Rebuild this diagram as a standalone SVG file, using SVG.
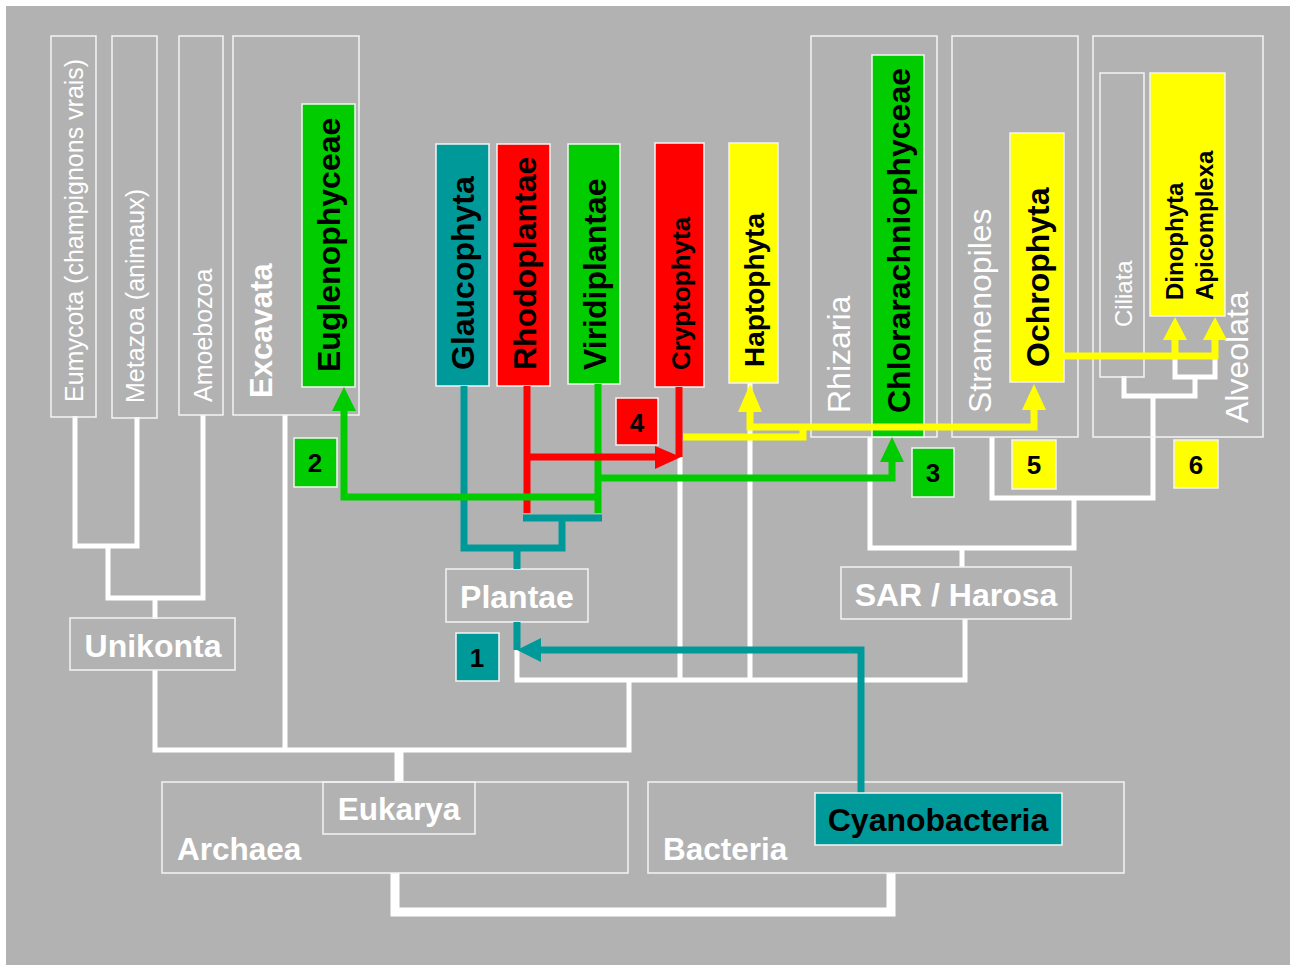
<svg xmlns="http://www.w3.org/2000/svg" width="1290" height="965" viewBox="0 0 1290 965">
<style>
.bx{fill:none;stroke:#f4f4f4;stroke-width:1.5}
.cb{stroke:#f4f4f4;stroke-width:1.5}
.teal{fill:#009999}.red{fill:#ff0000}.green{fill:#00cc00}.yellow{fill:#ffff00}
.wt{fill:#ffffff;font-family:"Liberation Sans",Arial,sans-serif}
.bt{fill:#000000;font-family:"Liberation Sans",Arial,sans-serif;font-weight:bold}
.b{font-weight:bold}
.num{fill:#000000;font-family:"Liberation Sans",Arial,sans-serif;font-weight:bold;font-size:26px;text-anchor:middle}
.tree{fill:none;stroke:#ffffff;stroke-width:5}
.thick{fill:none;stroke:#ffffff;stroke-width:9}
.ct{fill:none;stroke:#009999;stroke-width:7}
.cr{fill:none;stroke:#ff0000;stroke-width:7}
.cg{fill:none;stroke:#00cc00;stroke-width:7}
.cy{fill:none;stroke:#ffff00;stroke-width:7}
</style>
<rect x="0" y="0" width="1290" height="965" fill="#ffffff"/>
<rect x="6" y="6" width="1284" height="959" fill="#b2b2b2"/>

<!-- white tree lines (under) -->
<g id="tree">
<path class="tree" d="M75 416V546H137V417"/>
<path class="tree" d="M108 546V598H203V415"/>
<path class="tree" d="M155 598V619"/>
<path class="tree" d="M155 670V750H629V680"/>
<path class="tree" d="M285 415V750"/>
<path class="tree" d="M517 650V680H965V619"/>
<path class="tree" d="M680 457V680"/>
<path class="tree" d="M750 382V680"/>
<path class="thick" d="M399 750V782"/>
<path class="thick" d="M395 873V912H891V873"/>
<path class="tree" d="M870 437V548H1074V498"/>
<path class="tree" d="M962 548V567"/>
<path class="tree" d="M992 437V498H1153V396"/>
<path class="tree" d="M1124 376V396H1195V377"/>
<path class="tree" d="M1175 356V377H1215V356"/>
</g>

<g id="eumycota"><rect class="bx" x="51" y="36" width="45" height="381"/><text class="wt" font-size="25" transform="translate(83,402) rotate(-90)">Eumycota (champignons vrais)</text></g>
<g id="metazoa"><rect class="bx" x="112" y="36" width="45" height="382"/><text class="wt" font-size="25" transform="translate(144,403) rotate(-90)">Metazoa (animaux)</text></g>
<g id="amoebozoa"><rect class="bx" x="179" y="36" width="44" height="379"/><text class="wt" font-size="25" transform="translate(212,402) rotate(-90)">Amoebozoa</text></g>
<g id="excavata"><rect class="bx" x="233" y="36" width="126" height="379"/><text class="wt b" font-size="31" transform="translate(272,398) rotate(-90)">Excavata</text></g>
<g id="euglenophyceae"><rect class="green cb" x="302" y="104" width="53" height="283"/><text class="bt" font-size="32" transform="translate(340,372) rotate(-90)">Euglenophyceae</text></g>

<g id="glaucophyta"><rect class="teal cb" x="436" y="144" width="53" height="242"/><text class="bt" font-size="32" transform="translate(474,370) rotate(-90)">Glaucophyta</text></g>
<g id="rhodoplantae"><rect class="red cb" x="497" y="144" width="53" height="242"/><text class="bt" font-size="32" transform="translate(536,370) rotate(-90)">Rhodoplantae</text></g>
<g id="viridiplantae"><rect class="green cb" x="568" y="144" width="52" height="240"/><text class="bt" font-size="32" transform="translate(606,370) rotate(-90)">Viridiplantae</text></g>
<g id="cryptophyta"><rect class="red cb" x="655" y="143" width="49" height="244"/><text class="bt" font-size="26" transform="translate(690,370) rotate(-90)">Cryptophyta</text></g>
<g id="haptophyta"><rect class="yellow cb" x="729" y="143" width="49" height="240"/><text class="bt" font-size="28" transform="translate(764,367) rotate(-90)">Haptophyta</text></g>

<g id="rhizaria"><rect class="bx" x="811" y="36" width="126" height="401"/><text class="wt" font-size="32" transform="translate(850,413) rotate(-90)">Rhizaria</text></g>
<g id="chlorarachniophyceae"><rect class="green cb" x="872" y="55" width="52" height="382"/><text class="bt" font-size="32" transform="translate(910,413) rotate(-90)">Chlorarachniophyceae</text></g>
<g id="stramenopiles"><rect class="bx" x="952" y="36" width="126" height="401"/><text class="wt" font-size="32" transform="translate(991,413) rotate(-90)">Stramenopiles</text></g>
<g id="ochrophyta"><rect class="yellow cb" x="1010" y="133" width="54" height="249"/><text class="bt" font-size="32" transform="translate(1049,367) rotate(-90)">Ochrophyta</text></g>
<g id="alveolata"><rect class="bx" x="1093" y="36" width="170" height="401"/><text class="wt" font-size="32" transform="translate(1248,423) rotate(-90)">Alveolata</text></g>
<g id="ciliata"><rect class="bx" x="1100" y="73" width="44" height="304"/><text class="wt" font-size="24" transform="translate(1132,327) rotate(-90)">Ciliata</text></g>
<g id="dinophyta-apicomplexa"><rect class="yellow cb" x="1150" y="73" width="75" height="243"/><text class="bt" font-size="24" transform="translate(1183,300) rotate(-90)">Dinophyta</text><text class="bt" font-size="24" transform="translate(1213,300) rotate(-90)">Apicomplexa</text></g>

<g id="plantae"><rect class="bx" x="446" y="569" width="142" height="53"/><text class="wt b" font-size="32" text-anchor="middle" x="517" y="608">Plantae</text></g>
<g id="unikonta"><rect class="bx" x="70" y="618" width="165" height="52"/><text class="wt b" font-size="32" text-anchor="middle" x="153" y="657">Unikonta</text></g>
<g id="sar-harosa"><rect class="bx" x="841" y="567" width="230" height="52"/><text class="wt b" font-size="32" text-anchor="middle" x="956" y="606">SAR / Harosa</text></g>
<g id="archaea"><rect class="bx" x="162" y="782" width="466" height="91"/><text class="wt b" font-size="31.5" x="177" y="860">Archaea</text></g>
<g id="eukarya"><rect class="bx" x="323" y="782" width="152" height="52"/><text class="wt b" font-size="31.5" text-anchor="middle" x="399" y="820">Eukarya</text></g>
<g id="bacteria"><rect class="bx" x="648" y="782" width="476" height="91"/><text class="wt b" font-size="31.5" x="663" y="860">Bacteria</text></g>

<!-- colored connectors -->
<g id="connectors">
<path class="ct" d="M464 386V548H562V518"/>
<path class="ct" d="M523 518H602"/>
<path class="ct" d="M517 548V569"/>
<path class="cr" d="M527 386V513"/>
<path class="cg" d="M598 384V513"/>
<path class="cg" d="M344 408V497H598"/>
<polygon class="green" points="344,387 332,411 356,411"/>
<path class="cr" d="M527 457H658"/>
<polygon class="red" points="681,457 655,446 655,469"/>
<path class="cr" d="M679 387V457"/>
<path class="cg" d="M598 478H892V460"/>
<polygon class="green" points="892,437 880,462 904,462"/>
<path class="cy" d="M683 437H803V427"/>
<path class="cy" d="M750 410V427H1034V408"/>
<polygon class="yellow" points="750,384 738,412 762,412"/>
<polygon class="yellow" points="1034,384 1022,410 1046,410"/>
<path class="cy" d="M1063 356H1218"/>
<path class="cy" d="M1175 359V338"/>
<path class="cy" d="M1215 359V338"/>
<polygon class="yellow" points="1175,317 1163,340 1187,340"/>
<polygon class="yellow" points="1215,317 1203,340 1227,340"/>
<path class="ct" d="M517 622V650"/>
<path class="ct" d="M861 793V650H539"/>
<polygon class="teal" points="517,650 541,638 541,662"/>
</g>

<g id="cyanobacteria"><rect class="teal cb" x="815" y="793" width="247" height="52"/><text class="bt" font-size="32" text-anchor="middle" x="938" y="831">Cyanobacteria</text></g>

<g id="n1"><rect class="teal cb" x="456" y="633" width="43" height="48"/><text class="num" x="477" y="667">1</text></g>
<g id="n2"><rect class="green cb" x="294" y="438" width="43" height="49"/><text class="num" x="315" y="472">2</text></g>
<g id="n3"><rect class="green cb" x="912" y="448" width="42" height="49"/><text class="num" x="933" y="482">3</text></g>
<g id="n4"><rect class="red cb" x="616" y="398" width="42" height="47"/><text class="num" x="637" y="432">4</text></g>
<g id="n5"><rect class="yellow cb" x="1012" y="440" width="44" height="49"/><text class="num" x="1034" y="474">5</text></g>
<g id="n6"><rect class="yellow cb" x="1174" y="440" width="44" height="48"/><text class="num" x="1196" y="474">6</text></g>
</svg>
